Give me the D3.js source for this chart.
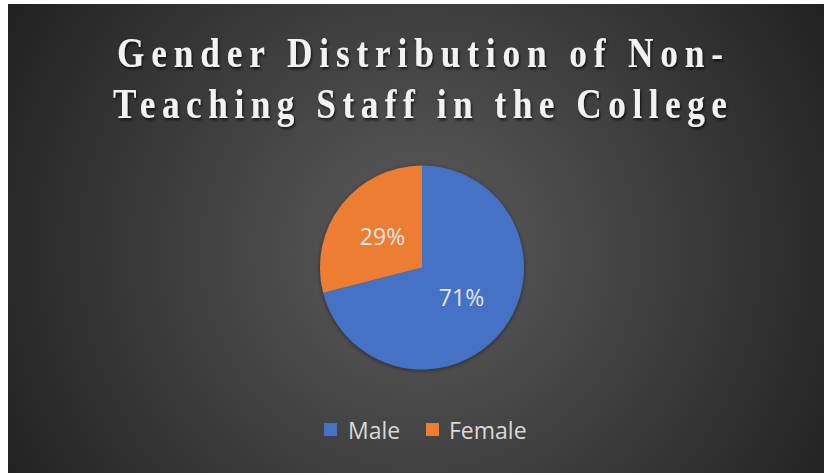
<!DOCTYPE html>
<html><head><meta charset="utf-8">
<script src="https://cdn.jsdelivr.net/npm/d3@7"></script>
<style>html,body{margin:0;padding:0;background:#fff;}svg{display:block;}</style>
</head><body>
<svg id="chart" width="824" height="473"></svg>
<script>
const titleLines = ["Gender Distribution of Non-", "Teaching Staff in the College"];
const categories = ["Male", "Female"];
const values = [71, 29];
const colors = ["#4472C4", "#ED7D31"];

const W = 824, H = 473;
const svg = d3.select("#chart");
const defs = svg.append("defs");

const bg = defs.append("radialGradient").attr("id","bg")
  .attr("gradientUnits","userSpaceOnUse").attr("cx",420).attr("cy",250).attr("r",470);
bg.append("stop").attr("offset","0").attr("stop-color","#5c5c5c");
bg.append("stop").attr("offset","1").attr("stop-color","#222222");

const sh = defs.append("filter").attr("id","tshadow").attr("x","-10%").attr("y","-20%").attr("width","120%").attr("height","150%");
sh.append("feDropShadow").attr("dx",1.5).attr("dy",2).attr("stdDeviation",1.5).attr("flood-color","#000").attr("flood-opacity",0.7);

const psh = defs.append("filter").attr("id","pshadow").attr("x","-20%").attr("y","-20%").attr("width","140%").attr("height","140%");
psh.append("feDropShadow").attr("dx",0).attr("dy",1).attr("stdDeviation",2).attr("flood-color","#000").attr("flood-opacity",0.5);

svg.append("rect").attr("x",8).attr("y",4).attr("width",W-8).attr("height",H-4).attr("fill","url(#bg)");

// Title (condensed serif with letter spacing)
const titleTargets = [{y:67, w:606}, {y:118, w:614}];
const sx = 0.82;
titleLines.forEach((t,i) => {
  svg.append("g").attr("transform",`translate(420,${titleTargets[i].y}) scale(${sx},1)`)
    .append("text")
    .attr("text-anchor","middle")
    .attr("font-family","'Liberation Serif','Times New Roman',serif")
    .attr("font-weight","bold")
    .attr("font-size",43)
    .attr("fill","#f2f2f2")
    .attr("filter","url(#tshadow)")
    .attr("textLength", titleTargets[i].w / sx)
    .attr("lengthAdjust","spacing")
    .text(t);
});

// Pie
const cx = 422, cy = 267.5, R = 102;
const pie = d3.pie().sort(null).value(d => d)(values);
const arc = d3.arc().innerRadius(0).outerRadius(R);
const gp = svg.append("g").attr("transform",`translate(${cx},${cy})`);
gp.append("g").attr("filter","url(#pshadow)").selectAll("path").data(pie).join("path")
  .attr("d",arc).attr("fill",(d,i)=>colors[i]);

const total = d3.sum(values);
const labelArc = d3.arc().innerRadius(R*0.49).outerRadius(R*0.49);
gp.selectAll("text.lbl").data(pie).join("text").attr("class","lbl")
  .attr("transform",d=>`translate(${labelArc.centroid(d)})`)
  .attr("text-anchor","middle").attr("dy","0.36em")
  .attr("font-family","'Open Sans',sans-serif").attr("font-size",23)
  .attr("fill","#e6e6e6")
  .text(d => Math.round(d.data/total*100) + "%");

// Legend
const legend = svg.append("g");
const items = [{x:324, tx:348},{x:426, tx:449}];
categories.forEach((c,i)=>{
  legend.append("rect").attr("x",items[i].x).attr("y",423).attr("width",13).attr("height",13).attr("fill",colors[i]);
  legend.append("text").attr("x",items[i].tx).attr("y",439)
    .attr("font-family","'Open Sans',sans-serif").attr("font-size",23)
    .attr("fill","#d9d9d9").text(c);
});
</script>
</body></html>
